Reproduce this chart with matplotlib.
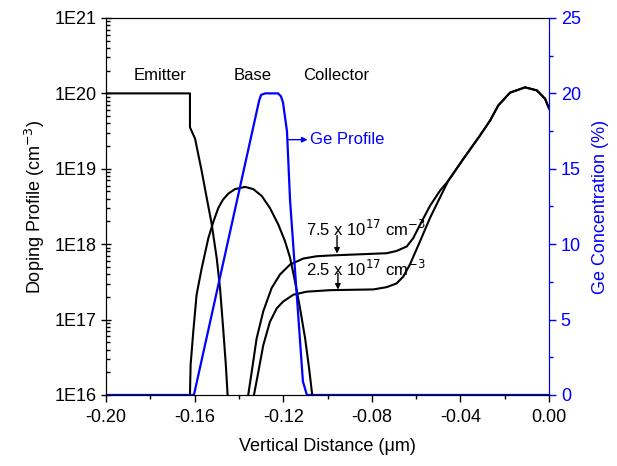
import numpy as np
import matplotlib
matplotlib.use('Agg')
import matplotlib.pyplot as plt
from matplotlib.ticker import FixedLocator, FuncFormatter, LogLocator, NullFormatter, MultipleLocator

plt.rcParams['font.family'] = ['Liberation Sans', 'DejaVu Sans']

# values (x in um, doping as log10 of cm^-3, Ge in %)
emitter_x = [-0.200, -0.1621, -0.1621, -0.1598, -0.1568, -0.1545, -0.1523, -0.1500, -0.1485, -0.1470, -0.1459, -0.1451]
emitter_log = [20.0, 20.0, 19.55, 19.40, 18.97, 18.61, 18.27, 17.81, 17.41, 16.84, 16.40, 16.0]

base_x = [-0.1621, -0.1618, -0.1606, -0.1591, -0.1568, -0.1538, -0.1515, -0.1493, -0.1472, -0.1448, -0.1418,
          -0.1372, -0.1335, -0.1297, -0.1260, -0.1222, -0.1192, -0.1169, -0.1147, -0.1124, -0.1101, -0.1083, -0.1069]
base_log = [16.0, 16.40, 16.84, 17.33, 17.68, 18.08, 18.30, 18.48, 18.59, 18.67, 18.73,
            18.76, 18.73, 18.64, 18.48, 18.26, 18.04, 17.82, 17.51, 17.15, 16.75, 16.35, 16.0]

coll75_x = [-0.1358, -0.1342, -0.1320, -0.1290, -0.1252, -0.1214, -0.1169, -0.1109, -0.1049, -0.0989,
            -0.0733, -0.0688, -0.0642, -0.0613, -0.0582, -0.0537, -0.0492, -0.0455,
            -0.0387, -0.0312, -0.0266, -0.0229, -0.0176, -0.0108, -0.0055, -0.0018, 0.0]
coll75_log = [16.0, 16.31, 16.75, 17.11, 17.42, 17.60, 17.73, 17.81, 17.84, 17.85,
              17.88, 17.91, 17.97, 18.08, 18.26, 18.51, 18.71, 18.84,
              19.13, 19.44, 19.64, 19.84, 20.01, 20.08, 20.04, 19.93, 19.80]

coll25_x = [-0.1332, -0.1312, -0.1290, -0.1260, -0.1229, -0.1200, -0.1154, -0.1094, -0.0989, -0.0793,
            -0.0733, -0.0688, -0.0658, -0.0628, -0.0582, -0.0537, -0.0492, -0.0455,
            -0.0387, -0.0312, -0.0266, -0.0229, -0.0176, -0.0108, -0.0055, -0.0018, 0.0]
coll25_log = [16.0, 16.31, 16.66, 16.97, 17.15, 17.24, 17.33, 17.37, 17.39, 17.40,
              17.43, 17.48, 17.57, 17.73, 18.04, 18.35, 18.62, 18.84,
              19.13, 19.44, 19.64, 19.84, 20.01, 20.08, 20.04, 19.93, 19.80]

ge_x = [-0.200, -0.1603, -0.1309, -0.1300, -0.1282, -0.1223, -0.1210, -0.1201, -0.1183, -0.1169, -0.1111, -0.1093, 0.0]
ge_pct = [0, 0, 19.5, 19.9, 20.0, 20.0, 19.8, 19.4, 17.5, 12.9, 0.9, 0, 0]

x_ticks = [-0.20, -0.16, -0.12, -0.08, -0.04, 0.00]
ge_ticks = [0, 5, 10, 15, 20, 25]

fig = plt.figure(figsize=(6.17, 4.66), dpi=100)
ax = fig.add_axes([0.1718, 0.1524, 0.718, 0.809])
ax2 = ax.twinx()

for xs, lg in [(emitter_x, emitter_log), (base_x, base_log), (coll75_x, coll75_log), (coll25_x, coll25_log)]:
    ax.plot(xs, 10 ** np.array(lg), color='black', lw=1.5)

ax2.plot(ge_x, ge_pct, color='#0000ff', lw=1.6, zorder=1)

ax.set_yscale('log')
ax.set_ylim(1e16, 1e21)
ax.set_xlim(-0.20, 0.0)
ax2.set_ylim(0, 25)

ax.set_xticks(x_ticks)
ax.set_xticklabels(['%.2f' % v for v in x_ticks])
ax.xaxis.set_minor_locator(MultipleLocator(0.02))
ax.yaxis.set_major_locator(FixedLocator([1e16, 1e17, 1e18, 1e19, 1e20, 1e21]))
ax.yaxis.set_major_formatter(FuncFormatter(lambda v, p: '1E%d' % round(np.log10(v))))
ax.yaxis.set_minor_locator(LogLocator(base=10, subs=np.arange(2, 10), numticks=20))
ax.yaxis.set_minor_formatter(NullFormatter())

ax2.set_yticks(ge_ticks)
ax2.yaxis.set_minor_locator(MultipleLocator(2.5))

ax.tick_params(axis='x', which='major', direction='out', length=5, labelsize=13, width=1, pad=5)
ax.tick_params(axis='x', which='minor', direction='out', length=3, width=1)
ax.tick_params(axis='y', which='major', direction='inout', length=7, labelsize=13, width=1)
ax.tick_params(axis='y', which='minor', direction='in', length=3, width=1)
ax2.tick_params(axis='y', which='major', direction='out', length=5, labelsize=13, colors='#0000ff', width=1)
ax2.tick_params(axis='y', which='minor', direction='out', length=3, colors='#0000ff', width=1)
ax2.spines['right'].set_color('#0000ff')

ax.set_xlabel('Vertical Distance (\u03bcm)', fontsize=13, labelpad=9)
ax.set_ylabel('Doping Profile (cm$^{-3}$)', fontsize=13, labelpad=5)
ax2.set_ylabel('Ge Concentration (%)', fontsize=13, color='#0000ff', labelpad=8)

ax.text(-0.1755, 10 ** 20.24, 'Emitter', fontsize=12, ha='center', va='center')
ax.text(-0.1340, 10 ** 20.24, 'Base', fontsize=12, ha='center', va='center')
ax.text(-0.0962, 10 ** 20.24, 'Collector', fontsize=12, ha='center', va='center')

ax.text(-0.1097, 10 ** 18.2, '7.5 x 10$^{17}$ cm$^{-3}$', fontsize=12, ha='left', va='center')
ax.text(-0.1097, 10 ** 17.67, '2.5 x 10$^{17}$ cm$^{-3}$', fontsize=12, ha='left', va='center')
ax.annotate('', xy=(-0.0957, 7.5e17), xytext=(-0.0957, 1.3e18),
            arrowprops=dict(arrowstyle='-|>', color='black', lw=1, mutation_scale=8, shrinkA=0, shrinkB=0))
ax.annotate('', xy=(-0.0953, 2.5e17), xytext=(-0.0953, 4.1e17),
            arrowprops=dict(arrowstyle='-|>', color='black', lw=1, mutation_scale=8, shrinkA=0, shrinkB=0))

ax2.annotate('', xy=(-0.1090, 16.93), xytext=(-0.1178, 16.93),
             arrowprops=dict(arrowstyle='-|>', color='#0000ff', lw=1, mutation_scale=8, shrinkA=0, shrinkB=0))
ax2.text(-0.1081, 16.93, 'Ge Profile', fontsize=12, color='#0000ff', ha='left', va='center')

fig.savefig('out.png', dpi=100)
